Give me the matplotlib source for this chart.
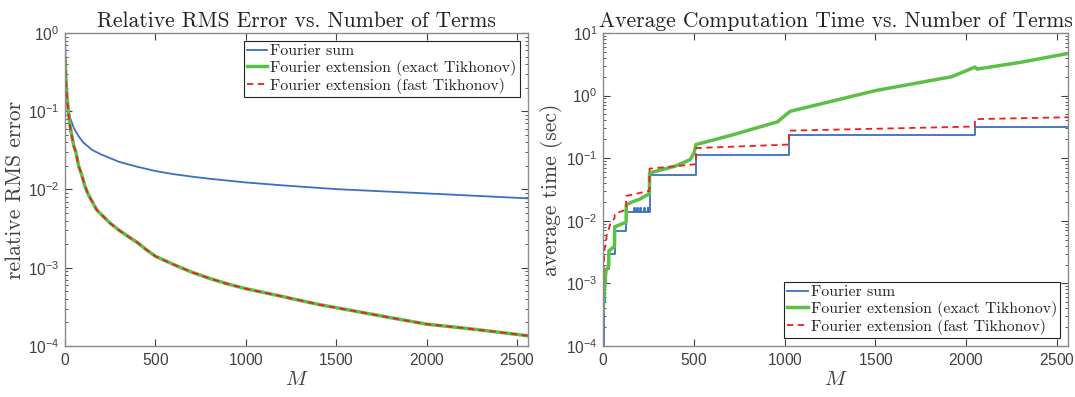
import matplotlib
matplotlib.use("Agg")
import matplotlib.pyplot as plt
from matplotlib.ticker import LogLocator, NullFormatter

# ---- left panel: relative RMS error ----
m_err_sum = [1, 5, 10, 20, 30, 50, 75, 100, 150, 200, 300, 400, 500, 600, 700,
             800, 1000, 1200, 1500, 2000, 2560]
err_sum = [0.7, 0.3, 0.17, 0.1, 0.08, 0.06, 0.048, 0.04, 0.032, 0.028, 0.0225,
           0.0195, 0.0172, 0.0157, 0.0146, 0.0137, 0.0123, 0.0113, 0.0101,
           0.0089, 0.0077]

m_err_ext = [1, 5, 10, 20, 30, 40, 50, 60, 75, 90, 110, 130, 150, 175, 200, 250,
             300, 350, 400, 450, 500, 600, 700, 800, 900, 1000, 1200, 1400, 1600,
             1800, 2000, 2200, 2400, 2560]
err_exact = [0.45, 0.25, 0.16, 0.09, 0.06, 0.045, 0.035, 0.03, 0.02, 0.016,
             0.011, 0.0085, 0.007, 0.0055, 0.0048, 0.0037, 0.003, 0.0025, 0.0021,
             0.0017, 0.0014, 0.0011, 0.00088, 0.00073, 0.00062, 0.00054,
             0.00043, 0.00034, 0.00028, 0.00023, 0.00019, 0.00017, 0.00015,
             0.000135]
err_fast = [0.46, 0.25, 0.16, 0.09, 0.06, 0.045, 0.035, 0.03, 0.02, 0.016,
            0.011, 0.0085, 0.007, 0.0055, 0.0048, 0.0037, 0.003, 0.0025, 0.0021,
            0.0017, 0.0014, 0.0011, 0.00088, 0.00073, 0.00062, 0.00054,
            0.00043, 0.00034, 0.00028, 0.00023, 0.00019, 0.00017, 0.00015,
            0.000135]

# ---- right panel: average computation time ----
m_t_sum = [1, 4, 8, 16, 32, 64, 128, 170, 175, 185, 190, 205, 210, 225, 230,
           245, 250, 256, 512, 1024, 2048, 2560]
t_sum = [1e-4, 5e-4, 1e-3, 1.7e-3, 2.9e-3, 6.9e-3, 0.014, 0.016, 0.014, 0.016,
         0.014, 0.016, 0.014, 0.016, 0.014, 0.016, 0.014, 0.053, 0.113, 0.235,
         0.31, 0.31]

m_t_exact = [1, 4, 8, 12, 16, 31, 32, 63, 64, 127, 128, 160, 200, 255, 256, 400,
             480, 500, 512, 700, 960, 1030, 1500, 1920, 2048, 2060, 2300, 2560]
t_exact = [3.5e-4, 6e-4, 8e-4, 1.2e-3, 1.6e-3, 1.9e-3, 3.3e-3, 3.9e-3, 8e-3,
           9.5e-3, 0.018, 0.02, 0.022, 0.027, 0.058, 0.075, 0.095, 0.12, 0.165,
           0.23, 0.38, 0.56, 1.2, 2.0, 2.85, 2.65, 3.4, 4.7]

m_t_fast = [1, 4, 8, 16, 20, 32, 40, 63, 64, 127, 128, 255, 256, 511, 512, 1023,
            1024, 2047, 2048, 2560]
t_fast = [1e-3, 2e-3, 3.5e-3, 4.5e-3, 6e-3, 7.5e-3, 0.009, 0.011, 0.013, 0.015,
          0.025, 0.03, 0.068, 0.08, 0.145, 0.165, 0.275, 0.32, 0.42, 0.45]

BLUE = "#3b6fc2"
GREEN = "#5cbf46"
RED = "#ee1c25"
GRAY = "#404040"
SERIF = "cmr10"

plt.rcParams["font.family"] = ["Liberation Sans", "DejaVu Sans"]
plt.rcParams["axes.formatter.use_mathtext"] = True
plt.rcParams["mathtext.fontset"] = "cm"

fig = plt.figure(figsize=(10.75, 3.97), dpi=100)
ax1 = fig.add_axes([0.0605, 0.1285, 0.4305, 0.7885])
ax2 = fig.add_axes([0.561, 0.1285, 0.4325, 0.7885])

ax1.plot(m_err_sum, err_sum, color=BLUE, lw=1.3, label="Fourier sum")
ax1.plot(m_err_ext, err_exact, color=GREEN, lw=2.5,
         label="Fourier extension (exact Tikhonov)")
ax1.plot(m_err_ext, err_fast, color=RED, lw=1.3, ls=(0, (3.5, 2.5)),
         label="Fourier extension (fast Tikhonov)")
ax1.set_ylim(1e-4, 1)

ax2.plot(m_t_sum, t_sum, color=BLUE, lw=1.3, drawstyle="steps-post",
         label="Fourier sum")
ax2.plot(m_t_exact, t_exact, color=GREEN, lw=2.5,
         label="Fourier extension (exact Tikhonov)")
ax2.plot(m_t_fast, t_fast, color=RED, lw=1.3, ls=(0, (3.5, 2.5)),
         label="Fourier extension (fast Tikhonov)")
ax2.set_ylim(1e-4, 10)

for ax in (ax1, ax2):
    ax.set_yscale("log")
    ax.set_xlim(0, 2560)
    ax.set_xticks([0, 500, 1000, 1500, 2000, 2500])
    ax.yaxis.set_major_locator(LogLocator(base=10, numticks=10))
    ax.yaxis.set_minor_locator(LogLocator(base=10, subs=range(2, 10), numticks=20))
    ax.yaxis.set_minor_formatter(NullFormatter())
    ax.tick_params(which="both", direction="in", top=True, right=True,
                   colors=GRAY, labelsize=11.2)
    ax.tick_params(which="major", length=5, pad=4)
    ax.tick_params(which="minor", length=2.5)
    for s in ax.spines.values():
        s.set_color("#8a8a8a")
        s.set_linewidth(1.0)
    ax.set_xlabel("$M$", fontsize=15, color=GRAY, labelpad=2)

ax1.set_title("Relative RMS Error vs. Number of Terms", fontfamily=SERIF,
              fontsize=15.5, pad=4, color="#222222")
ax2.set_title("Average Computation Time vs. Number of Terms", fontfamily=SERIF,
              fontsize=15.5, pad=4, color="#222222")
ax1.set_ylabel("relative RMS error", fontfamily=SERIF, fontsize=15.5,
               color=GRAY, labelpad=2)
ax2.set_ylabel("average time (sec)", fontfamily=SERIF, fontsize=15.5,
               color=GRAY, labelpad=2)

leg_kw = dict(prop={"family": SERIF, "size": 11.4}, fancybox=False,
              framealpha=1, handlelength=1.3, handletextpad=0.2, borderpad=0.2,
              labelspacing=0.12, borderaxespad=0.5)
l1 = ax1.legend(loc="upper right", **leg_kw)
l2 = ax2.legend(loc="lower right", **leg_kw)
for leg in (l1, l2):
    leg.get_frame().set_edgecolor("#222222")
    leg.get_frame().set_linewidth(0.8)
    for t in leg.get_texts():
        t.set_color("#222222")

fig.savefig("out.png", dpi=100)
